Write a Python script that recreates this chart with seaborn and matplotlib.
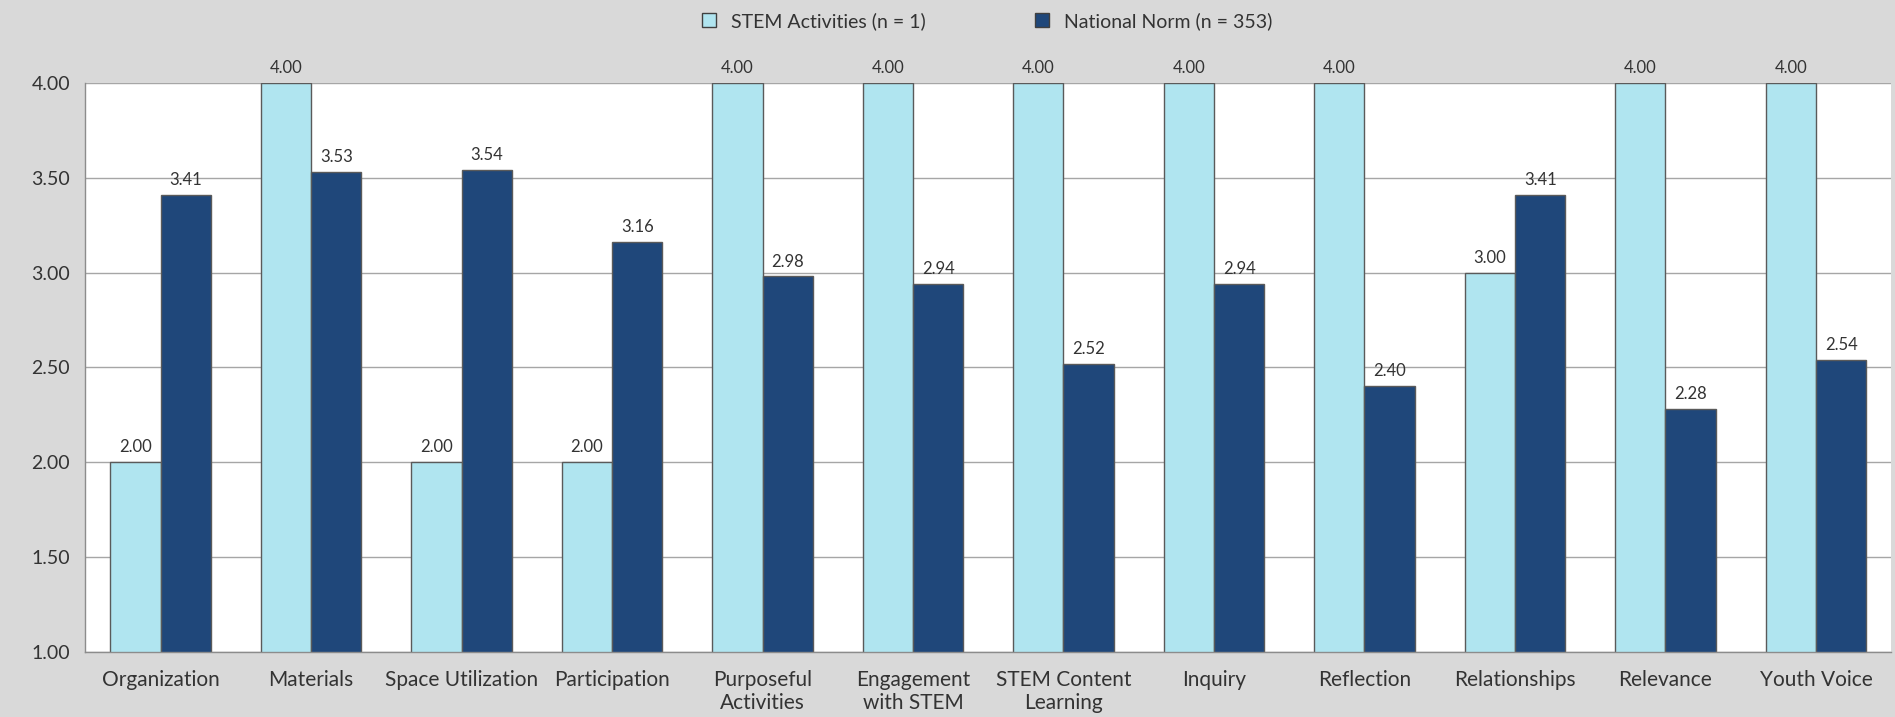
import numpy as np
import pandas as pd
import matplotlib
matplotlib.use("Agg")
import matplotlib.pyplot as plt
import seaborn as sns
from matplotlib.patches import Patch

# ------------------------------------------------------------------
# Data
# ------------------------------------------------------------------
domains = [
    "Organization", "Materials", "Space Utilization", "Participation",
    "Purposeful\nActivities", "Engagement\nwith STEM", "STEM Content\nLearning",
    "Inquiry", "Reflection", "Relationships", "Relevance", "Youth Voice",
]
stem_scores = [2.00, 4.00, 2.00, 2.00, 4.00, 4.00, 4.00, 4.00, 4.00, 3.00, 4.00, 4.00]
norm_scores = [3.41, 3.53, 3.54, 3.16, 2.98, 2.94, 2.52, 2.94, 2.40, 3.41, 2.28, 2.54]
series_names = ["STEM Activities (n = 1)", "National Norm (n = 353)"]
y_ticks = [1.00, 1.50, 2.00, 2.50, 3.00, 3.50, 4.00]

df = pd.DataFrame({
    "domain": domains * 2,
    "score": stem_scores + norm_scores,
    "series": [series_names[0]] * len(domains) + [series_names[1]] * len(domains),
})

# ------------------------------------------------------------------
# Style
# ------------------------------------------------------------------
BG = "#d9d9d9"
PALETTE = {series_names[0]: "#b0e5f0", series_names[1]: "#1f477a"}
TEXT = "#333333"

sns.set_theme(style="white")
plt.rcParams["font.family"] = ["Lato", "DejaVu Sans"]

fig = plt.figure(figsize=(18.95, 7.17), dpi=100, facecolor=BG)
ax = fig.add_axes([0.045, 0.091, 0.953, 0.793])
ax.set_facecolor("white")

sns.barplot(
    data=df, x="domain", y="score", hue="series", order=domains,
    hue_order=series_names, palette=PALETTE, width=0.67, gap=0,
    edgecolor="#5a5a5a", linewidth=1.0, saturation=1, ax=ax, legend=False,
)

for cont in ax.containers:
    ax.bar_label(cont, fmt="%.2f", padding=5, fontsize=12, color=TEXT,
                 annotation_clip=False)

# Axes
ax.set_ylim(1.0, 4.0)
ax.set_xlim(-0.5, len(domains) - 0.5)
ax.set_yticks(y_ticks)
ax.set_yticklabels([f"{v:.2f}" for v in y_ticks], fontsize=14, color=TEXT)
ax.yaxis.grid(True, color="#a6a6a6", linewidth=1.0)
ax.set_axisbelow(True)
ax.set_xlabel("")
ax.set_ylabel("")

ax.tick_params(axis="x", which="major", length=0, labelsize=15,
               labelcolor=TEXT, pad=13)
ax.set_xticks(np.arange(-0.5, len(domains), 1.0), minor=True)
ax.tick_params(axis="x", which="minor", length=5, color="#8c8c8c", width=1)
ax.tick_params(axis="y", length=5, color="#8c8c8c", width=1, pad=6)

for side in ["top", "right"]:
    ax.spines[side].set_visible(False)
for side in ["left", "bottom"]:
    ax.spines[side].set_color("#8c8c8c")
    ax.spines[side].set_linewidth(1.0)

# Legend
handles = [Patch(facecolor=PALETTE[s], edgecolor="#404040", linewidth=1.0, label=s)
           for s in series_names]
fig.legend(handles=handles, loc="upper center", bbox_to_anchor=(0.521, 1.008),
           ncol=2, frameon=False, fontsize=14, handlelength=0.7, handleheight=0.7,
           columnspacing=5.6, handletextpad=0.8, labelcolor=TEXT)

fig.savefig("out.png", dpi=100, facecolor=BG)
